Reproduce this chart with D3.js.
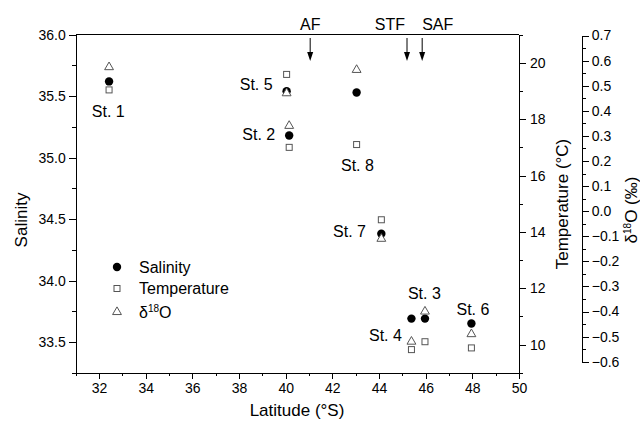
<!DOCTYPE html>
<html>
<head>
<meta charset="utf-8">
<script src="https://cdn.jsdelivr.net/npm/d3@7/dist/d3.min.js"></script>
<style>
  body { margin: 0; background: #fff; }
  text { font-family: "Liberation Sans", Arial, sans-serif; fill: #000; }
  .axis path, .axis line { stroke: #000; shape-rendering: crispEdges; }
  .axis text { font-size: 14px; }
</style>
</head>
<body>
<svg id="chart" width="640" height="423"></svg>
<script>
// station data
var stations = ["St. 1", "St. 2", "St. 3", "St. 4", "St. 5", "St. 6", "St. 7", "St. 8"];
var latitude = [32.43, 40.15, 45.97, 45.39, 40.04, 47.96, 44.1, 43.04];
var salinity = [35.62, 35.18, 33.69, 33.69, 35.54, 33.65, 34.38, 35.53];
var temperature = [19.04, 17.0, 10.1, 9.82, 19.59, 9.88, 14.43, 17.1];
var delta18O = [0.574, 0.34, -0.40, -0.52, 0.47, -0.49, -0.11, 0.563];

// where the station labels sit, in (latitude, salinity) units
var labelLat = [31.69, 38.14, 45.24, 43.57, 38.03, 47.32, 42.03, 42.37];
var labelSal = [35.334, 35.145, 33.848, 33.511, 35.547, 33.716, 34.358, 34.891];

// oceanic fronts
var fronts = ["AF", "STF", "SAF"];
var frontLat = [41.05, 45.2, 45.85];
var frontAnchor = ["middle", "end", "start"];

var legendNames = ["Salinity", "Temperature", "δ18O"];

var svg = d3.select("#chart");

var x = d3.scaleLinear().domain([31, 50]).range([75.7, 519]);
var yS = d3.scaleLinear().domain([33.25, 36.0]).range([372.7, 34.7]);
var yT = d3.scaleLinear().domain([9, 21]).range([372.7, 34.7]);
var yD = d3.scaleLinear().domain([-0.6, 0.7]).range([361.7, 35.5]);

// --- axes ---
function addAxis(axis, tx, ty) {
  return svg.append("g").attr("class", "axis")
    .attr("transform", "translate(" + tx + "," + ty + ")")
    .call(axis);
}

// bottom
addAxis(d3.axisBottom(x).tickValues(d3.range(31, 50.01, 1)).tickSize(3).tickSizeOuter(0).tickFormat(""), 0, 372.7)
  .select(".domain").remove();
addAxis(d3.axisBottom(x).tickValues(d3.range(32, 50.01, 2)).tickSize(6).tickSizeOuter(0).tickPadding(4)
  .tickFormat(d3.format("d")), 0, 372.7);

// left salinity
addAxis(d3.axisLeft(yS).tickValues(d3.range(33.25, 36.01, 0.25)).tickSize(4).tickSizeOuter(0).tickFormat(""), 75.7, 0)
  .select(".domain").remove();
addAxis(d3.axisLeft(yS).tickValues(d3.range(33.5, 36.01, 0.5)).tickSize(7).tickSizeOuter(0).tickPadding(3)
  .tickFormat(d3.format(".1f")), 75.7, 0);

// right temperature
addAxis(d3.axisRight(yT).tickValues(d3.range(9, 21.01, 1)).tickSize(4).tickSizeOuter(0).tickFormat(""), 519, 0)
  .select(".domain").remove();
addAxis(d3.axisRight(yT).tickValues(d3.range(10, 20.01, 2)).tickSize(7).tickSizeOuter(0).tickPadding(4)
  .tickFormat(d3.format("d")), 519, 0);

// far right delta18O
addAxis(d3.axisRight(yD).tickValues(d3.range(-0.55, 0.7, 0.1)).tickSize(4).tickSizeOuter(0).tickFormat(""), 581.7, 0)
  .select(".domain").remove();
addAxis(d3.axisRight(yD).tickValues(d3.range(-6, 7.01, 1).map(function(v) { return v / 10; }))
  .tickSize(7).tickSizeOuter(0).tickPadding(3).tickFormat(d3.format(".1f")), 581.7, 0);

// top frame line
svg.append("line")
  .attr("x1", x(31)).attr("x2", x(50))
  .attr("y1", yS(36)).attr("y2", yS(36))
  .attr("stroke", "#000").attr("shape-rendering", "crispEdges");

// axis titles
svg.append("text").attr("x", 297).attr("y", 416).attr("text-anchor", "middle")
  .style("font-size", "17px").text("Latitude (°S)");
svg.append("text").attr("transform", "translate(27,220) rotate(-90)").attr("text-anchor", "middle")
  .style("font-size", "17px").text("Salinity");
svg.append("text").attr("transform", "translate(568,204) rotate(-90)").attr("text-anchor", "middle")
  .style("font-size", "17px").text("Temperature (°C)");
var dt = svg.append("text").attr("transform", "translate(637,210) rotate(-90)").attr("text-anchor", "middle")
  .style("font-size", "17px");
dt.append("tspan").text("δ");
dt.append("tspan").attr("dy", -6).style("font-size", "10px").text("18");
dt.append("tspan").attr("dy", 6).text("O (‰)");

// --- fronts ---
var fg = svg.append("g");
fronts.forEach(function(f, i) {
  var fx = x(frontLat[i]);
  fg.append("line").attr("x1", fx).attr("x2", fx).attr("y1", 38).attr("y2", 52)
    .attr("stroke", "#000").attr("stroke-width", 1);
  fg.append("path").attr("d", "M" + (fx - 3) + ",52L" + (fx + 3) + ",52L" + fx + ",61Z").attr("fill", "#000");
  fg.append("text").attr("x", fx + (frontAnchor[i] === "end" ? -2 : 0)).attr("y", 30)
    .attr("text-anchor", frontAnchor[i]).style("font-size", "16px").text(f);
});

// --- points ---
var idx = d3.range(stations.length);
var triangle = d3.symbol().type(d3.symbolTriangle).size(34);

svg.append("g").selectAll("circle").data(idx).enter().append("circle")
  .attr("cx", function(i) { return x(latitude[i]); })
  .attr("cy", function(i) { return yS(salinity[i]); })
  .attr("r", 4.2).attr("fill", "#000");

svg.append("g").selectAll("rect").data(idx).enter().append("rect")
  .attr("x", function(i) { return x(latitude[i]) - 3; })
  .attr("y", function(i) { return yT(temperature[i]) - 3; })
  .attr("width", 6).attr("height", 6)
  .attr("fill", "none").attr("stroke", "#555").attr("stroke-width", 1);

svg.append("g").selectAll("path").data(idx).enter().append("path")
  .attr("d", triangle)
  .attr("transform", function(i) { return "translate(" + x(latitude[i]) + "," + yD(delta18O[i]) + ")"; })
  .attr("fill", "#fff").attr("stroke", "#555").attr("stroke-width", 1);

svg.append("g").selectAll("text").data(idx).enter().append("text")
  .attr("x", function(i) { return x(labelLat[i]); })
  .attr("y", function(i) { return yS(labelSal[i]); })
  .style("font-size", "16px")
  .text(function(i) { return stations[i]; });

// --- legend ---
var lg = svg.append("g").attr("transform", "translate(117,267)");
lg.append("circle").attr("cx", 0).attr("cy", 0).attr("r", 4.2).attr("fill", "#000");
lg.append("rect").attr("x", -3).attr("y", 21.5 - 3).attr("width", 6).attr("height", 6)
  .attr("fill", "none").attr("stroke", "#555");
lg.append("path").attr("d", triangle).attr("transform", "translate(0,45)")
  .attr("fill", "#fff").attr("stroke", "#555");
legendNames.forEach(function(n, i) {
  var t = lg.append("text").attr("x", 22).attr("y", [0, 21.5, 45][i] + 5.5).style("font-size", "16px");
  if (n === "δ18O") {
    t.append("tspan").text("δ");
    t.append("tspan").attr("dy", -6).style("font-size", "10px").text("18");
    t.append("tspan").attr("dy", 6).text("O");
  } else {
    t.text(n);
  }
});
</script>
</body>
</html>
